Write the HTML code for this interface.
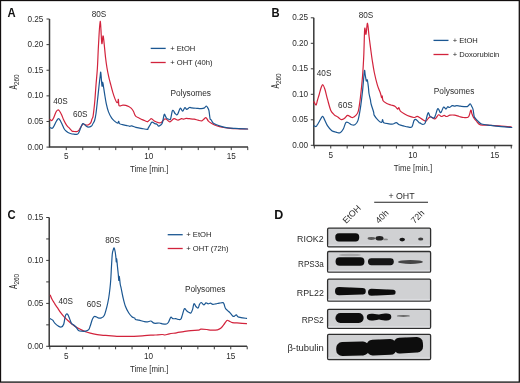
<!DOCTYPE html>
<html><head><meta charset="utf-8"><style>
html,body{margin:0;padding:0;background:#fff;}
body{width:520px;height:383px;overflow:hidden;position:relative;}
svg{display:block;position:absolute;left:0;top:0;font-family:"Liberation Sans",sans-serif;}
#t{filter:grayscale(1);}
</style></head><body>
<svg width="520" height="383" viewBox="0 0 520 383">
<defs><filter id="bl" x="-20%" y="-50%" width="140%" height="200%"><feGaussianBlur stdDeviation="0.7"/></filter></defs>
<rect width="520" height="383" fill="#fff"/>
<path d="M49.5,19.0 V147.1 H248" fill="none" stroke="#3a3a3a" stroke-width="1.5"/>
<path d="M46.5,19.0 H49.5" stroke="#3a3a3a" stroke-width="1"/>
<path d="M46.5,44.620000000000005 H49.5" stroke="#3a3a3a" stroke-width="1"/>
<path d="M46.5,70.24000000000001 H49.5" stroke="#3a3a3a" stroke-width="1"/>
<path d="M46.5,95.86 H49.5" stroke="#3a3a3a" stroke-width="1"/>
<path d="M46.5,121.48 H49.5" stroke="#3a3a3a" stroke-width="1"/>
<path d="M46.5,147.1 H49.5" stroke="#3a3a3a" stroke-width="1"/>
<path d="M66.25,147.1 V150.1" stroke="#3a3a3a" stroke-width="1"/>
<path d="M82.75,147.1 V150.1" stroke="#3a3a3a" stroke-width="1"/>
<path d="M99.25,147.1 V150.1" stroke="#3a3a3a" stroke-width="1"/>
<path d="M115.75,147.1 V150.1" stroke="#3a3a3a" stroke-width="1"/>
<path d="M132.25,147.1 V150.1" stroke="#3a3a3a" stroke-width="1"/>
<path d="M148.75,147.1 V150.1" stroke="#3a3a3a" stroke-width="1"/>
<path d="M165.25,147.1 V150.1" stroke="#3a3a3a" stroke-width="1"/>
<path d="M181.75,147.1 V150.1" stroke="#3a3a3a" stroke-width="1"/>
<path d="M198.25,147.1 V150.1" stroke="#3a3a3a" stroke-width="1"/>
<path d="M214.75,147.1 V150.1" stroke="#3a3a3a" stroke-width="1"/>
<path d="M231.25,147.1 V150.1" stroke="#3a3a3a" stroke-width="1"/>
<path d="M247.75,147.1 V150.1" stroke="#3a3a3a" stroke-width="1"/>
<path d="M313.8,17.8 V145.5 H512.3" fill="none" stroke="#3a3a3a" stroke-width="1.5"/>
<path d="M310.8,17.8 H313.8" stroke="#3a3a3a" stroke-width="1"/>
<path d="M310.8,43.3 H313.8" stroke="#3a3a3a" stroke-width="1"/>
<path d="M310.8,68.8 H313.8" stroke="#3a3a3a" stroke-width="1"/>
<path d="M310.8,94.3 H313.8" stroke="#3a3a3a" stroke-width="1"/>
<path d="M310.8,119.8 H313.8" stroke="#3a3a3a" stroke-width="1"/>
<path d="M310.8,145.3 H313.8" stroke="#3a3a3a" stroke-width="1"/>
<path d="M314.34,145.5 V148.5" stroke="#3a3a3a" stroke-width="1"/>
<path d="M330.75,145.5 V148.5" stroke="#3a3a3a" stroke-width="1"/>
<path d="M347.16,145.5 V148.5" stroke="#3a3a3a" stroke-width="1"/>
<path d="M363.57,145.5 V148.5" stroke="#3a3a3a" stroke-width="1"/>
<path d="M379.98,145.5 V148.5" stroke="#3a3a3a" stroke-width="1"/>
<path d="M396.39,145.5 V148.5" stroke="#3a3a3a" stroke-width="1"/>
<path d="M412.8,145.5 V148.5" stroke="#3a3a3a" stroke-width="1"/>
<path d="M429.21000000000004,145.5 V148.5" stroke="#3a3a3a" stroke-width="1"/>
<path d="M445.62,145.5 V148.5" stroke="#3a3a3a" stroke-width="1"/>
<path d="M462.03,145.5 V148.5" stroke="#3a3a3a" stroke-width="1"/>
<path d="M478.44,145.5 V148.5" stroke="#3a3a3a" stroke-width="1"/>
<path d="M494.85,145.5 V148.5" stroke="#3a3a3a" stroke-width="1"/>
<path d="M511.26,145.5 V148.5" stroke="#3a3a3a" stroke-width="1"/>
<path d="M49.2,217.5 V346.3 H247" fill="none" stroke="#3a3a3a" stroke-width="1.5"/>
<path d="M46.2,217.5 H49.2" stroke="#3a3a3a" stroke-width="1"/>
<path d="M46.2,260.4 H49.2" stroke="#3a3a3a" stroke-width="1"/>
<path d="M46.2,303.4 H49.2" stroke="#3a3a3a" stroke-width="1"/>
<path d="M46.2,346.3 H49.2" stroke="#3a3a3a" stroke-width="1"/>
<path d="M46.2,238.95 H49.2" stroke="#3a3a3a" stroke-width="1"/>
<path d="M46.2,281.9 H49.2" stroke="#3a3a3a" stroke-width="1"/>
<path d="M46.2,324.85 H49.2" stroke="#3a3a3a" stroke-width="1"/>
<path d="M49.8,346.3 V349.3" stroke="#3a3a3a" stroke-width="1"/>
<path d="M66.25,346.3 V349.3" stroke="#3a3a3a" stroke-width="1"/>
<path d="M82.7,346.3 V349.3" stroke="#3a3a3a" stroke-width="1"/>
<path d="M99.15,346.3 V349.3" stroke="#3a3a3a" stroke-width="1"/>
<path d="M115.6,346.3 V349.3" stroke="#3a3a3a" stroke-width="1"/>
<path d="M132.05,346.3 V349.3" stroke="#3a3a3a" stroke-width="1"/>
<path d="M148.5,346.3 V349.3" stroke="#3a3a3a" stroke-width="1"/>
<path d="M164.95,346.3 V349.3" stroke="#3a3a3a" stroke-width="1"/>
<path d="M181.39999999999998,346.3 V349.3" stroke="#3a3a3a" stroke-width="1"/>
<path d="M197.85,346.3 V349.3" stroke="#3a3a3a" stroke-width="1"/>
<path d="M214.29999999999998,346.3 V349.3" stroke="#3a3a3a" stroke-width="1"/>
<path d="M230.75,346.3 V349.3" stroke="#3a3a3a" stroke-width="1"/>
<path d="M247.2,346.3 V349.3" stroke="#3a3a3a" stroke-width="1"/>
<path d="M50.00,119.40 C50.32,119.58 51.23,120.90 51.90,120.50 C52.57,120.10 53.32,118.42 54.00,117.00 C54.68,115.58 55.37,113.17 56.00,112.00 C56.63,110.83 57.22,110.17 57.80,110.00 C58.38,109.83 58.85,110.17 59.50,111.00 C60.15,111.83 61.03,113.58 61.70,115.00 C62.37,116.42 62.85,118.07 63.50,119.50 C64.15,120.93 64.93,122.47 65.60,123.60 C66.27,124.73 66.83,125.52 67.50,126.30 C68.17,127.08 68.87,127.52 69.60,128.30 C70.33,129.08 71.17,130.47 71.90,131.00 C72.63,131.53 73.08,131.42 74.00,131.50 C74.92,131.58 76.57,131.75 77.40,131.50 C78.23,131.25 78.48,130.65 79.00,130.00 C79.52,129.35 79.85,128.60 80.50,127.60 C81.15,126.60 82.23,124.52 82.90,124.00 C83.57,123.48 83.85,124.30 84.50,124.50 C85.15,124.70 86.13,125.15 86.80,125.20 C87.47,125.25 87.85,125.18 88.50,124.80 C89.15,124.42 90.12,123.87 90.70,122.90 C91.28,121.93 91.62,120.05 92.00,119.00 C92.38,117.95 92.65,118.43 93.00,116.60 C93.35,114.77 93.78,110.77 94.10,108.00 C94.42,105.23 94.58,103.83 94.90,100.00 C95.22,96.17 95.58,90.33 96.00,85.00 C96.42,79.67 96.98,74.67 97.40,68.00 C97.82,61.33 98.03,52.78 98.50,45.00 C98.97,37.22 99.65,21.58 100.20,21.30 C100.75,21.02 101.35,40.82 101.80,43.30 C102.25,45.78 102.58,36.85 102.90,36.20 C103.22,35.55 103.25,35.77 103.70,39.40 C104.15,43.03 105.05,53.23 105.60,58.00 C106.15,62.77 106.48,64.88 107.00,68.00 C107.52,71.12 108.15,74.20 108.70,76.70 C109.25,79.20 109.62,80.38 110.30,83.00 C110.98,85.62 111.98,89.67 112.80,92.40 C113.62,95.13 114.52,97.70 115.20,99.40 C115.88,101.10 116.45,102.20 116.90,102.60 C117.35,103.00 117.65,102.33 117.90,101.80 C118.15,101.27 118.23,98.82 118.40,99.40 C118.57,99.98 118.55,104.22 118.90,105.30 C119.25,106.38 119.85,105.93 120.50,105.90 C121.15,105.87 121.92,105.20 122.80,105.10 C123.68,105.00 124.82,105.07 125.80,105.30 C126.78,105.53 127.82,106.02 128.70,106.50 C129.58,106.98 130.32,107.42 131.10,108.20 C131.88,108.98 132.85,110.27 133.40,111.20 C133.95,112.13 133.98,112.93 134.40,113.80 C134.82,114.67 135.13,115.70 135.90,116.40 C136.67,117.10 137.95,117.47 139.00,118.00 C140.05,118.53 141.20,119.13 142.20,119.60 C143.20,120.07 144.13,120.45 145.00,120.80 C145.87,121.15 146.90,121.58 147.40,121.70 C147.90,121.82 147.57,121.85 148.00,121.50 C148.43,121.15 149.42,120.07 150.00,119.60 C150.58,119.13 150.78,118.47 151.50,118.70 C152.22,118.93 153.15,120.33 154.30,121.00 C155.45,121.67 157.23,122.45 158.40,122.70 C159.57,122.95 160.25,123.12 161.30,122.50 C162.35,121.88 163.75,119.45 164.70,119.00 C165.65,118.55 166.13,119.33 167.00,119.80 C167.87,120.27 168.73,121.98 169.90,121.80 C171.07,121.62 172.65,118.97 174.00,118.70 C175.35,118.43 176.75,120.20 178.00,120.20 C179.25,120.20 180.53,118.87 181.50,118.70 C182.47,118.53 183.03,119.25 183.80,119.20 C184.57,119.15 185.15,118.48 186.10,118.40 C187.05,118.32 188.15,118.57 189.50,118.70 C190.85,118.83 192.78,118.95 194.20,119.20 C195.62,119.45 196.78,119.92 198.00,120.20 C199.22,120.48 200.58,121.02 201.50,120.90 C202.42,120.78 202.73,120.03 203.50,119.50 C204.27,118.97 205.28,117.42 206.10,117.70 C206.92,117.98 207.45,120.23 208.40,121.20 C209.35,122.17 210.45,122.73 211.80,123.50 C213.15,124.27 214.57,125.13 216.50,125.80 C218.43,126.47 221.10,127.07 223.40,127.50 C225.70,127.93 227.53,128.18 230.30,128.40 C233.07,128.62 237.12,128.70 240.00,128.80 C242.88,128.90 246.33,128.97 247.60,129.00" fill="none" stroke="#d2233c" stroke-width="1.2" stroke-linejoin="round" stroke-linecap="round"/>
<path d="M50.00,127.60 C50.38,127.72 51.63,128.57 52.30,128.30 C52.97,128.03 53.30,127.22 54.00,126.00 C54.70,124.78 55.73,122.23 56.50,121.00 C57.27,119.77 57.93,118.60 58.60,118.60 C59.27,118.60 59.85,119.90 60.50,121.00 C61.15,122.10 61.92,123.95 62.50,125.20 C63.08,126.45 63.48,127.58 64.00,128.50 C64.52,129.42 64.93,130.03 65.60,130.70 C66.27,131.37 67.22,132.03 68.00,132.50 C68.78,132.97 69.30,133.22 70.30,133.50 C71.30,133.78 72.82,134.07 74.00,134.20 C75.18,134.33 76.57,134.62 77.40,134.30 C78.23,133.98 78.40,133.52 79.00,132.30 C79.60,131.08 80.35,128.45 81.00,127.00 C81.65,125.55 82.32,124.02 82.90,123.60 C83.48,123.18 83.98,124.10 84.50,124.50 C85.02,124.90 85.37,125.55 86.00,126.00 C86.63,126.45 87.38,127.20 88.30,127.20 C89.22,127.20 90.72,126.62 91.50,126.00 C92.28,125.38 92.48,124.42 93.00,123.50 C93.52,122.58 94.10,122.17 94.60,120.50 C95.10,118.83 95.50,117.03 96.00,113.50 C96.50,109.97 97.08,104.02 97.60,99.30 C98.12,94.58 98.67,89.12 99.10,85.20 C99.53,81.28 99.92,77.92 100.20,75.80 C100.48,73.68 100.50,70.80 100.80,72.50 C101.10,74.20 101.68,84.40 102.00,86.00 C102.32,87.60 102.47,82.10 102.70,82.10 C102.93,82.10 103.08,84.03 103.40,86.00 C103.72,87.97 104.13,91.02 104.60,93.90 C105.07,96.78 105.55,100.30 106.20,103.30 C106.85,106.30 107.58,109.42 108.50,111.90 C109.42,114.38 110.65,116.63 111.70,118.20 C112.75,119.77 113.82,120.47 114.80,121.30 C115.78,122.13 116.95,123.20 117.60,123.20 C118.25,123.20 118.38,121.23 118.70,121.30 C119.02,121.37 118.85,123.03 119.50,123.60 C120.15,124.17 121.50,124.40 122.60,124.70 C123.70,125.00 124.90,125.13 126.10,125.40 C127.30,125.67 128.87,126.22 129.80,126.30 C130.73,126.38 130.68,125.73 131.70,125.90 C132.72,126.07 134.15,126.85 135.90,127.30 C137.65,127.75 140.28,128.25 142.20,128.60 C144.12,128.95 146.43,129.42 147.40,129.40 C148.37,129.38 147.62,129.13 148.00,128.50 C148.38,127.87 149.03,126.67 149.70,125.60 C150.37,124.53 151.13,122.43 152.00,122.10 C152.87,121.77 154.03,123.22 154.90,123.60 C155.77,123.98 156.62,123.97 157.20,124.40 C157.78,124.83 157.82,126.10 158.40,126.20 C158.98,126.30 160.03,125.58 160.70,125.00 C161.37,124.42 161.82,124.43 162.40,122.70 C162.98,120.97 163.72,115.75 164.20,114.60 C164.68,113.45 164.92,115.22 165.30,115.80 C165.68,116.38 166.02,117.57 166.50,118.10 C166.98,118.63 167.53,118.82 168.20,119.00 C168.87,119.18 169.83,120.50 170.50,119.20 C171.17,117.90 171.72,112.63 172.20,111.20 C172.68,109.77 172.92,110.22 173.40,110.60 C173.88,110.98 174.43,112.83 175.10,113.50 C175.77,114.17 176.53,115.47 177.40,114.60 C178.27,113.73 179.43,108.87 180.30,108.30 C181.17,107.73 181.83,111.33 182.60,111.20 C183.37,111.07 184.22,107.80 184.90,107.50 C185.58,107.20 185.93,109.40 186.70,109.40 C187.47,109.40 188.65,107.75 189.50,107.50 C190.35,107.25 190.63,107.77 191.80,107.90 C192.97,108.03 194.95,108.18 196.50,108.30 C198.05,108.42 199.77,108.67 201.10,108.60 C202.43,108.53 203.63,108.33 204.50,107.90 C205.37,107.47 205.75,106.00 206.30,106.00 C206.85,106.00 207.35,107.10 207.80,107.90 C208.25,108.70 208.62,108.98 209.00,110.80 C209.38,112.62 209.72,117.27 210.10,118.80 C210.48,120.33 210.82,119.32 211.30,120.00 C211.78,120.68 212.13,122.10 213.00,122.90 C213.87,123.70 215.15,124.23 216.50,124.80 C217.85,125.37 219.18,125.80 221.10,126.30 C223.02,126.80 225.70,127.45 228.00,127.80 C230.30,128.15 231.63,128.20 234.90,128.40 C238.17,128.60 245.48,128.90 247.60,129.00" fill="none" stroke="#1b5792" stroke-width="1.2" stroke-linejoin="round" stroke-linecap="round"/>
<path d="M314.00,101.80 C314.35,102.33 315.52,105.30 316.10,105.00 C316.68,104.70 316.98,101.75 317.50,100.00 C318.02,98.25 318.62,96.50 319.20,94.50 C319.78,92.50 320.40,89.63 321.00,88.00 C321.60,86.37 322.15,84.48 322.80,84.70 C323.45,84.92 324.10,86.80 324.90,89.30 C325.70,91.80 326.63,96.22 327.60,99.70 C328.57,103.18 329.73,107.83 330.70,110.20 C331.67,112.57 332.68,113.02 333.40,113.90 C334.12,114.78 334.40,115.08 335.00,115.50 C335.60,115.92 336.33,115.98 337.00,116.40 C337.67,116.82 338.30,117.47 339.00,118.00 C339.70,118.53 340.32,119.52 341.20,119.60 C342.08,119.68 343.25,119.20 344.30,118.50 C345.35,117.80 346.45,115.67 347.50,115.40 C348.55,115.13 349.73,116.55 350.60,116.90 C351.47,117.25 351.83,117.75 352.70,117.50 C353.57,117.25 354.87,116.45 355.80,115.40 C356.73,114.35 357.53,114.17 358.30,111.20 C359.07,108.23 359.70,103.35 360.40,97.60 C361.10,91.85 361.93,83.80 362.50,76.70 C363.07,69.60 363.43,62.98 363.80,55.00 C364.17,47.02 364.33,32.25 364.70,28.80 C365.07,25.35 365.53,35.22 366.00,34.30 C366.47,33.38 366.98,22.90 367.50,23.30 C368.02,23.70 368.57,32.38 369.10,36.70 C369.63,41.02 370.18,45.32 370.70,49.20 C371.22,53.08 371.60,56.12 372.20,60.00 C372.80,63.88 373.43,68.32 374.30,72.50 C375.17,76.68 376.37,81.60 377.40,85.10 C378.43,88.60 379.80,91.42 380.50,93.50 C381.20,95.58 381.32,97.18 381.60,97.60 C381.88,98.02 381.95,95.47 382.20,96.00 C382.45,96.53 382.33,99.55 383.10,100.80 C383.87,102.05 385.48,102.80 386.80,103.50 C388.12,104.20 389.60,104.52 391.00,105.00 C392.40,105.48 394.08,105.72 395.20,106.40 C396.32,107.08 397.08,108.88 397.70,109.10 C398.32,109.32 398.45,107.35 398.90,107.70 C399.35,108.05 399.45,110.17 400.40,111.20 C401.35,112.23 403.03,113.03 404.60,113.90 C406.17,114.77 408.23,115.80 409.80,116.40 C411.37,117.00 412.78,117.50 414.00,117.50 C415.22,117.50 416.10,116.37 417.10,116.40 C418.10,116.43 419.03,117.13 420.00,117.70 C420.97,118.27 421.93,119.22 422.90,119.80 C423.87,120.38 424.93,121.40 425.80,121.20 C426.67,121.00 427.33,119.33 428.10,118.60 C428.87,117.87 429.25,116.77 430.40,116.80 C431.55,116.83 433.65,119.13 435.00,118.80 C436.35,118.47 437.45,115.18 438.50,114.80 C439.55,114.42 440.35,116.40 441.30,116.50 C442.25,116.60 443.33,115.40 444.20,115.40 C445.07,115.40 445.53,116.53 446.50,116.50 C447.47,116.47 448.65,115.42 450.00,115.20 C451.35,114.98 453.07,114.98 454.60,115.20 C456.13,115.42 457.67,116.12 459.20,116.50 C460.73,116.88 462.25,117.45 463.80,117.50 C465.35,117.55 467.33,118.02 468.50,116.80 C469.67,115.58 470.23,110.72 470.80,110.20 C471.37,109.68 471.42,112.45 471.90,113.70 C472.38,114.95 472.93,116.45 473.70,117.70 C474.47,118.95 475.38,120.02 476.50,121.20 C477.62,122.38 478.00,124.12 480.40,124.80 C482.80,125.48 487.42,125.08 490.90,125.30 C494.38,125.52 497.92,125.83 501.30,126.10 C504.68,126.37 509.55,126.77 511.20,126.90" fill="none" stroke="#d2233c" stroke-width="1.2" stroke-linejoin="round" stroke-linecap="round"/>
<path d="M314.00,125.90 C314.35,126.00 315.52,126.73 316.10,126.50 C316.68,126.27 316.98,125.30 317.50,124.50 C318.02,123.70 318.38,123.05 319.20,121.70 C320.02,120.35 321.52,116.75 322.40,116.40 C323.28,116.05 323.63,118.02 324.50,119.60 C325.37,121.18 326.38,124.05 327.60,125.90 C328.82,127.75 330.40,129.67 331.80,130.70 C333.20,131.73 334.62,131.75 336.00,132.10 C337.38,132.45 338.88,133.32 340.10,132.80 C341.32,132.28 342.35,130.68 343.30,129.00 C344.25,127.32 344.93,123.75 345.80,122.70 C346.67,121.65 347.53,122.35 348.50,122.70 C349.47,123.05 350.55,124.45 351.60,124.80 C352.65,125.15 353.75,125.50 354.80,124.80 C355.85,124.10 356.97,123.38 357.90,120.60 C358.83,117.82 359.63,112.97 360.40,108.10 C361.17,103.23 361.83,97.55 362.50,91.40 C363.17,85.25 363.95,73.97 364.40,71.20 C364.85,68.43 364.88,73.18 365.20,74.80 C365.52,76.42 365.95,80.05 366.30,80.90 C366.65,81.75 366.95,78.85 367.30,79.90 C367.65,80.95 368.12,84.93 368.40,87.20 C368.68,89.47 368.67,91.42 369.00,93.50 C369.33,95.58 370.05,97.95 370.40,99.70 C370.75,101.45 370.57,101.95 371.10,104.00 C371.63,106.05 373.07,110.10 373.60,112.00 C374.13,113.90 373.48,113.97 374.30,115.40 C375.12,116.83 377.28,119.45 378.50,120.60 C379.72,121.75 380.92,122.47 381.60,122.30 C382.28,122.13 382.25,119.53 382.60,119.60 C382.95,119.67 382.65,122.00 383.70,122.70 C384.75,123.40 387.33,123.58 388.90,123.80 C390.47,124.02 391.88,124.18 393.10,124.00 C394.32,123.82 395.15,122.57 396.20,122.70 C397.25,122.83 398.18,124.27 399.40,124.80 C400.62,125.33 402.12,125.55 403.50,125.90 C404.88,126.25 406.30,126.73 407.70,126.90 C409.10,127.07 410.85,127.95 411.90,126.90 C412.95,125.85 413.30,121.82 414.00,120.60 C414.70,119.38 415.23,119.25 416.10,119.60 C416.97,119.95 418.55,122.15 419.20,122.70 C419.85,123.25 419.38,122.62 420.00,122.90 C420.62,123.18 422.03,124.40 422.90,124.40 C423.77,124.40 424.53,124.22 425.20,122.90 C425.87,121.58 426.38,118.23 426.90,116.50 C427.42,114.77 427.82,112.58 428.30,112.50 C428.78,112.42 429.27,115.23 429.80,116.00 C430.33,116.77 430.73,116.82 431.50,117.10 C432.27,117.38 433.43,118.95 434.40,117.70 C435.37,116.45 436.62,111.05 437.30,109.60 C437.98,108.15 438.02,108.52 438.50,109.00 C438.98,109.48 439.73,112.02 440.20,112.50 C440.67,112.98 440.72,112.80 441.30,111.90 C441.88,111.00 442.92,107.58 443.70,107.10 C444.48,106.62 445.33,109.07 446.00,109.00 C446.67,108.93 447.13,106.95 447.70,106.70 C448.27,106.45 448.63,107.68 449.40,107.50 C450.17,107.32 451.43,105.82 452.30,105.60 C453.17,105.38 453.83,106.20 454.60,106.20 C455.37,106.20 455.93,105.60 456.90,105.60 C457.87,105.60 458.85,106.02 460.40,106.20 C461.95,106.38 464.85,106.80 466.20,106.70 C467.55,106.60 467.83,106.08 468.50,105.60 C469.17,105.12 469.63,103.62 470.20,103.80 C470.77,103.98 471.42,105.73 471.90,106.70 C472.38,107.67 472.72,107.97 473.10,109.60 C473.48,111.23 473.82,115.05 474.20,116.50 C474.58,117.95 474.82,117.57 475.40,118.30 C475.98,119.03 476.68,119.95 477.70,120.90 C478.72,121.85 479.30,123.25 481.50,124.00 C483.70,124.75 487.60,124.97 490.90,125.40 C494.20,125.83 497.82,126.25 501.30,126.60 C504.78,126.95 510.05,127.35 511.80,127.50" fill="none" stroke="#1b5792" stroke-width="1.2" stroke-linejoin="round" stroke-linecap="round"/>
<path d="M50.30,295.20 C50.57,295.85 51.23,297.80 51.90,299.10 C52.57,300.40 53.65,301.95 54.30,303.00 C54.95,304.05 55.28,304.62 55.80,305.40 C56.32,306.18 56.62,306.53 57.40,307.70 C58.18,308.87 59.45,310.97 60.50,312.40 C61.55,313.83 62.38,314.87 63.70,316.30 C65.02,317.73 66.83,319.55 68.40,321.00 C69.97,322.45 71.53,323.82 73.10,325.00 C74.67,326.18 76.23,327.20 77.80,328.10 C79.37,329.00 80.93,329.70 82.50,330.40 C84.07,331.10 85.38,331.72 87.20,332.30 C89.02,332.88 91.05,333.43 93.40,333.90 C95.75,334.37 98.78,334.82 101.30,335.10 C103.82,335.38 105.90,335.40 108.50,335.60 C111.10,335.80 114.08,336.17 116.90,336.30 C119.72,336.43 122.57,336.40 125.40,336.40 C128.23,336.40 131.07,336.38 133.90,336.30 C136.73,336.22 139.58,336.10 142.40,335.90 C145.22,335.70 148.70,335.25 150.80,335.10 C152.90,334.95 153.10,335.10 155.00,335.00 C156.90,334.90 160.53,334.50 162.20,334.50 C163.87,334.50 163.80,335.12 165.00,335.00 C166.20,334.88 167.48,334.17 169.40,333.80 C171.32,333.43 174.12,333.17 176.50,332.80 C178.88,332.43 181.30,331.97 183.70,331.60 C186.10,331.23 188.50,330.83 190.90,330.60 C193.30,330.37 196.43,330.43 198.10,330.20 C199.77,329.97 199.47,329.32 200.90,329.20 C202.33,329.08 204.97,329.33 206.70,329.50 C208.43,329.67 209.50,330.15 211.30,330.20 C213.10,330.25 215.93,330.12 217.50,329.80 C219.07,329.48 219.65,329.15 220.70,328.30 C221.75,327.45 222.77,326.02 223.80,324.70 C224.83,323.38 225.98,321.00 226.90,320.40 C227.82,319.80 228.38,320.73 229.30,321.10 C230.22,321.47 230.70,322.27 232.40,322.60 C234.10,322.93 237.15,322.93 239.50,323.10 C241.85,323.27 245.33,323.52 246.50,323.60" fill="none" stroke="#d2233c" stroke-width="1.2" stroke-linejoin="round" stroke-linecap="round"/>
<path d="M50.30,318.70 C50.70,318.95 51.92,319.42 52.70,320.20 C53.48,320.98 54.08,322.43 55.00,323.40 C55.92,324.37 57.15,325.40 58.20,326.00 C59.25,326.60 60.38,327.30 61.30,327.00 C62.22,326.70 63.05,325.98 63.70,324.20 C64.35,322.42 64.73,318.00 65.20,316.30 C65.67,314.60 66.03,314.25 66.50,314.00 C66.97,313.75 67.48,314.02 68.00,314.80 C68.52,315.58 69.02,317.27 69.60,318.70 C70.18,320.13 70.80,322.35 71.50,323.40 C72.20,324.45 73.02,324.35 73.80,325.00 C74.58,325.65 75.42,326.40 76.20,327.30 C76.98,328.20 77.58,329.75 78.50,330.40 C79.42,331.05 80.52,331.07 81.70,331.20 C82.88,331.33 84.43,331.47 85.60,331.20 C86.77,330.93 87.92,330.52 88.70,329.60 C89.48,328.68 89.65,327.52 90.30,325.70 C90.95,323.88 91.87,320.27 92.60,318.70 C93.33,317.13 93.78,316.43 94.70,316.30 C95.62,316.17 97.00,317.63 98.10,317.90 C99.20,318.17 100.28,318.28 101.30,317.90 C102.32,317.52 103.28,317.40 104.20,315.60 C105.12,313.80 106.05,310.03 106.80,307.10 C107.55,304.17 108.17,301.18 108.70,298.00 C109.23,294.82 109.65,291.17 110.00,288.00 C110.35,284.83 110.55,282.67 110.80,279.00 C111.05,275.33 111.25,270.17 111.50,266.00 C111.75,261.83 112.02,256.67 112.30,254.00 C112.58,251.33 112.90,251.02 113.20,250.00 C113.50,248.98 113.77,247.57 114.10,247.90 C114.43,248.23 114.90,250.40 115.20,252.00 C115.50,253.60 115.72,255.83 115.90,257.50 C116.08,259.17 116.17,261.78 116.30,262.00 C116.43,262.22 116.52,258.13 116.70,258.80 C116.88,259.47 117.13,263.38 117.40,266.00 C117.67,268.62 118.07,272.08 118.30,274.50 C118.53,276.92 118.63,280.17 118.80,280.50 C118.97,280.83 119.07,275.92 119.30,276.50 C119.53,277.08 119.88,282.00 120.20,284.00 C120.52,286.00 120.75,286.33 121.20,288.50 C121.65,290.67 122.20,294.03 122.90,297.00 C123.60,299.97 124.42,303.63 125.40,306.30 C126.38,308.97 127.67,311.22 128.80,313.00 C129.93,314.78 131.22,316.15 132.20,317.00 C133.18,317.85 134.15,317.68 134.70,318.10 C135.25,318.52 134.78,319.15 135.50,319.50 C136.22,319.85 137.57,319.87 139.00,320.20 C140.43,320.53 142.68,321.22 144.10,321.50 C145.52,321.78 146.38,321.98 147.50,321.90 C148.62,321.82 149.68,320.78 150.80,321.00 C151.92,321.22 152.78,322.87 154.20,323.20 C155.62,323.53 157.97,322.90 159.30,323.00 C160.63,323.10 161.00,323.63 162.20,323.80 C163.40,323.97 165.43,324.30 166.50,324.00 C167.57,323.70 167.88,323.12 168.60,322.00 C169.32,320.88 170.08,317.85 170.80,317.30 C171.52,316.75 172.07,318.47 172.90,318.70 C173.73,318.93 174.95,318.58 175.80,318.70 C176.65,318.82 177.17,319.32 178.00,319.40 C178.83,319.48 180.08,319.92 180.80,319.20 C181.52,318.48 181.70,316.85 182.30,315.10 C182.90,313.35 183.68,309.42 184.40,308.70 C185.12,307.98 185.88,310.20 186.60,310.80 C187.32,311.40 187.98,311.93 188.70,312.30 C189.42,312.67 190.25,313.48 190.90,313.00 C191.55,312.52 192.08,310.95 192.60,309.40 C193.12,307.85 193.45,304.18 194.00,303.70 C194.55,303.22 195.22,305.78 195.90,306.50 C196.58,307.22 197.50,308.35 198.10,308.00 C198.70,307.65 198.98,305.32 199.50,304.40 C200.02,303.48 200.48,302.43 201.20,302.50 C201.92,302.57 203.00,304.73 203.80,304.80 C204.60,304.87 205.28,303.07 206.00,302.90 C206.72,302.73 207.35,303.75 208.10,303.80 C208.85,303.85 209.72,303.12 210.50,303.20 C211.28,303.28 211.88,304.20 212.80,304.30 C213.72,304.40 214.95,303.98 216.00,303.80 C217.05,303.62 217.93,303.38 219.10,303.20 C220.27,303.02 222.17,302.52 223.00,302.70 C223.83,302.88 223.70,303.38 224.10,304.30 C224.50,305.22 224.80,307.15 225.40,308.20 C226.00,309.25 226.92,309.82 227.70,310.60 C228.48,311.38 229.32,312.05 230.10,312.90 C230.88,313.75 231.75,315.12 232.40,315.70 C233.05,316.28 233.35,316.55 234.00,316.40 C234.65,316.25 235.65,314.73 236.30,314.80 C236.95,314.87 237.12,316.33 237.90,316.80 C238.68,317.27 239.57,317.33 241.00,317.60 C242.43,317.87 245.58,318.27 246.50,318.40" fill="none" stroke="#1b5792" stroke-width="1.2" stroke-linejoin="round" stroke-linecap="round"/>
<path d="M150.7,48.4 h15" stroke="#1b5792" stroke-width="1.3"/>
<path d="M150.7,62.5 h15" stroke="#d2233c" stroke-width="1.3"/>
<path d="M433.5,40.4 h15" stroke="#1b5792" stroke-width="1.3"/>
<path d="M433.5,54.5 h15" stroke="#d2233c" stroke-width="1.3"/>
<path d="M167.7,234.7 h15" stroke="#1b5792" stroke-width="1.3"/>
<path d="M167.7,248.5 h15" stroke="#d2233c" stroke-width="1.3"/>
<rect x="327.6" y="228.2" width="103" height="18.600000000000023" rx="1.2" fill="#d0d1d3" stroke="#2e2e2e" stroke-width="1.3"/>
<rect x="328.4" y="244.60000000000002" width="101.4" height="1.4" fill="#dcdde0"/>
<rect x="327.6" y="251.5" width="103" height="20.600000000000023" rx="1.2" fill="#d0d1d3" stroke="#2e2e2e" stroke-width="1.3"/>
<rect x="328.4" y="269.90000000000003" width="101.4" height="1.4" fill="#dcdde0"/>
<rect x="327.6" y="279.2" width="103" height="21.900000000000034" rx="1.2" fill="#d0d1d3" stroke="#2e2e2e" stroke-width="1.3"/>
<rect x="328.4" y="298.90000000000003" width="101.4" height="1.4" fill="#dcdde0"/>
<rect x="327.6" y="309.4" width="103" height="18.900000000000034" rx="1.2" fill="#d0d1d3" stroke="#2e2e2e" stroke-width="1.3"/>
<rect x="328.4" y="326.1" width="101.4" height="1.4" fill="#dcdde0"/>
<rect x="327.6" y="334.3" width="103" height="25.19999999999999" rx="1.2" fill="#d0d1d3" stroke="#2e2e2e" stroke-width="1.3"/>
<rect x="328.4" y="357.3" width="101.4" height="1.4" fill="#dcdde0"/>
<g filter="url(#bl)" fill="#0d0d0d">
<rect x="335.3" y="233.2" width="23.90" height="8.20" rx="3.6"/>
<ellipse cx="371.4" cy="238.5" rx="3.8" ry="1.4" fill="#5a5a5a"/>
<ellipse cx="379.5" cy="238.3" rx="4.0" ry="2.3" fill="#222"/>
<ellipse cx="385.5" cy="239.4" rx="2.5" ry="0.9" fill="#888"/>
<ellipse cx="402.2" cy="239.6" rx="2.8" ry="1.8" fill="#151515"/>
<ellipse cx="420.7" cy="239.0" rx="2.6" ry="1.5" fill="#3a3a3a"/>
<ellipse cx="350" cy="255" rx="11" ry="1.3" fill="#a8a8aa"/>
<rect x="335.6" y="257.2" width="28.80" height="8.60" rx="4.0"/>
<rect x="368.0" y="258.2" width="25.80" height="7.00" rx="3.4" fill="#121212"/>
<ellipse cx="410.5" cy="261.9" rx="12.4" ry="2.0" fill="#444"/>
<path d="M339.1,287.09999999999997 L362.5,287.9 A3.3,3.3 0 0 1 362.5,294.5 L339.1,295.3 A4.1,4.1 0 0 1 339.1,287.09999999999997Z"/>
<path d="M371.5,288.7 L393.1,289.7 A2.5,2.5 0 0 1 393.1,294.7 L371.5,295.7 A3.5,3.5 0 0 1 371.5,288.7Z"/>
<rect x="335.5" y="313.0" width="28.10" height="10.00" rx="4.8"/>
<path d="M366.8,317 C366.8,313 371,313.2 379,314.6 C387,313 391.3,313 391.3,317 C391.3,321 387,321 379,319.4 C371,321 366.8,321 366.8,317Z"/>
<ellipse cx="403.4" cy="315.9" rx="6.5" ry="1.0" fill="#6a6a6a"/>
<rect x="336.2" y="341.8" width="32.80" height="13.90" rx="6" transform="rotate(-1.5 352.6 348.75)"/>
<rect x="366.6" y="339.4" width="29.80" height="15.70" rx="6" transform="rotate(-2 381.5 347.25)"/>
<rect x="393.6" y="337.4" width="29.40" height="15.60" rx="6" transform="rotate(-3 408.3 345.2)"/>
</g>
<path d="M374.2,202.2 H428" stroke="#222" stroke-width="1.1"/>
<rect x="0.5" y="0.5" width="518.8" height="381.6" fill="none" stroke="#120e0e" stroke-width="1.3"/>
</svg>
<svg id="t" width="520" height="383" viewBox="0 0 520 383">
<text x="0" y="0" font-size="8.7" text-anchor="end" fill="#2b2b2b" font-weight="normal" transform="translate(43.4,21.5) scale(0.94,1)" >0.25</text>
<text x="0" y="0" font-size="8.7" text-anchor="end" fill="#2b2b2b" font-weight="normal" transform="translate(43.4,47.120000000000005) scale(0.94,1)" >0.20</text>
<text x="0" y="0" font-size="8.7" text-anchor="end" fill="#2b2b2b" font-weight="normal" transform="translate(43.4,72.74000000000001) scale(0.94,1)" >0.15</text>
<text x="0" y="0" font-size="8.7" text-anchor="end" fill="#2b2b2b" font-weight="normal" transform="translate(43.4,98.36) scale(0.94,1)" >0.10</text>
<text x="0" y="0" font-size="8.7" text-anchor="end" fill="#2b2b2b" font-weight="normal" transform="translate(43.4,123.98) scale(0.94,1)" >0.05</text>
<text x="0" y="0" font-size="8.7" text-anchor="end" fill="#2b2b2b" font-weight="normal" transform="translate(43.4,149.6) scale(0.94,1)" >0.00</text>
<text x="0" y="0" font-size="8.7" text-anchor="middle" fill="#2b2b2b" font-weight="normal" transform="translate(66.25,158.8) scale(0.94,1)" >5</text>
<text x="0" y="0" font-size="8.7" text-anchor="middle" fill="#2b2b2b" font-weight="normal" transform="translate(148.75,158.8) scale(0.94,1)" >10</text>
<text x="0" y="0" font-size="8.7" text-anchor="middle" fill="#2b2b2b" font-weight="normal" transform="translate(231.25,158.8) scale(0.94,1)" >15</text>
<text x="0" y="0" font-size="8.7" text-anchor="end" fill="#2b2b2b" font-weight="normal" transform="translate(308.1,20.3) scale(0.94,1)" >0.25</text>
<text x="0" y="0" font-size="8.7" text-anchor="end" fill="#2b2b2b" font-weight="normal" transform="translate(308.1,45.8) scale(0.94,1)" >0.20</text>
<text x="0" y="0" font-size="8.7" text-anchor="end" fill="#2b2b2b" font-weight="normal" transform="translate(308.1,71.3) scale(0.94,1)" >0.15</text>
<text x="0" y="0" font-size="8.7" text-anchor="end" fill="#2b2b2b" font-weight="normal" transform="translate(308.1,96.8) scale(0.94,1)" >0.10</text>
<text x="0" y="0" font-size="8.7" text-anchor="end" fill="#2b2b2b" font-weight="normal" transform="translate(308.1,122.3) scale(0.94,1)" >0.05</text>
<text x="0" y="0" font-size="8.7" text-anchor="end" fill="#2b2b2b" font-weight="normal" transform="translate(308.1,147.8) scale(0.94,1)" >0.00</text>
<text x="0" y="0" font-size="8.7" text-anchor="middle" fill="#2b2b2b" font-weight="normal" transform="translate(330.75,158.0) scale(0.94,1)" >5</text>
<text x="0" y="0" font-size="8.7" text-anchor="middle" fill="#2b2b2b" font-weight="normal" transform="translate(412.8,158.0) scale(0.94,1)" >10</text>
<text x="0" y="0" font-size="8.7" text-anchor="middle" fill="#2b2b2b" font-weight="normal" transform="translate(494.85,158.0) scale(0.94,1)" >15</text>
<text x="0" y="0" font-size="8.7" text-anchor="end" fill="#2b2b2b" font-weight="normal" transform="translate(43.300000000000004,220.0) scale(0.94,1)" >0.15</text>
<text x="0" y="0" font-size="8.7" text-anchor="end" fill="#2b2b2b" font-weight="normal" transform="translate(43.300000000000004,262.9) scale(0.94,1)" >0.10</text>
<text x="0" y="0" font-size="8.7" text-anchor="end" fill="#2b2b2b" font-weight="normal" transform="translate(43.300000000000004,305.9) scale(0.94,1)" >0.05</text>
<text x="0" y="0" font-size="8.7" text-anchor="end" fill="#2b2b2b" font-weight="normal" transform="translate(43.300000000000004,348.8) scale(0.94,1)" >0.00</text>
<text x="0" y="0" font-size="8.7" text-anchor="middle" fill="#2b2b2b" font-weight="normal" transform="translate(66.25,358.6) scale(0.94,1)" >5</text>
<text x="0" y="0" font-size="8.7" text-anchor="middle" fill="#2b2b2b" font-weight="normal" transform="translate(148.5,358.6) scale(0.94,1)" >10</text>
<text x="0" y="0" font-size="8.7" text-anchor="middle" fill="#2b2b2b" font-weight="normal" transform="translate(230.75,358.6) scale(0.94,1)" >15</text>
<text x="99" y="17.4" font-size="8.2" text-anchor="middle" fill="#2b2b2b" font-weight="normal" >80S</text>
<text x="60.5" y="103.5" font-size="8.2" text-anchor="middle" fill="#2b2b2b" font-weight="normal" >40S</text>
<text x="80.3" y="117.3" font-size="8.2" text-anchor="middle" fill="#2b2b2b" font-weight="normal" >60S</text>
<text x="170.4" y="96" font-size="8.3" text-anchor="start" fill="#2b2b2b" font-weight="normal" >Polysomes</text>
<text x="366" y="17.8" font-size="8.2" text-anchor="middle" fill="#2b2b2b" font-weight="normal" >80S</text>
<text x="324.1" y="75.7" font-size="8.2" text-anchor="middle" fill="#2b2b2b" font-weight="normal" >40S</text>
<text x="345.4" y="107.5" font-size="8.2" text-anchor="middle" fill="#2b2b2b" font-weight="normal" >60S</text>
<text x="433.8" y="94.0" font-size="8.3" text-anchor="start" fill="#2b2b2b" font-weight="normal" >Polysomes</text>
<text x="112.6" y="243.2" font-size="8.2" text-anchor="middle" fill="#2b2b2b" font-weight="normal" >80S</text>
<text x="65.7" y="303.8" font-size="8.2" text-anchor="middle" fill="#2b2b2b" font-weight="normal" >40S</text>
<text x="94.1" y="306.9" font-size="8.2" text-anchor="middle" fill="#2b2b2b" font-weight="normal" >60S</text>
<text x="184.9" y="291.6" font-size="8.3" text-anchor="start" fill="#2b2b2b" font-weight="normal" >Polysomes</text>
<text x="170.2" y="51.0" font-size="7.6" text-anchor="start" fill="#222" font-weight="normal" >+ EtOH</text>
<text x="170.2" y="65.1" font-size="7.6" text-anchor="start" fill="#222" font-weight="normal" >+ OHT (40h)</text>
<text x="452.7" y="43.0" font-size="7.6" text-anchor="start" fill="#222" font-weight="normal" >+ EtOH</text>
<text x="452.7" y="57.1" font-size="7.6" text-anchor="start" fill="#222" font-weight="normal" >+ Doxorubicin</text>
<text x="186.29999999999998" y="237.29999999999998" font-size="7.6" text-anchor="start" fill="#222" font-weight="normal" >+ EtOH</text>
<text x="186.29999999999998" y="251.1" font-size="7.6" text-anchor="start" fill="#222" font-weight="normal" >+ OHT (72h)</text>
<text x="0" y="0" font-size="9.8" fill="#2b2b2b" transform="translate(130,172) scale(0.8,1)">Time [min.]</text>
<text x="0" y="0" font-size="9.8" fill="#2b2b2b" transform="translate(393.75,171.2) scale(0.8,1)">Time [min.]</text>
<text x="0" y="0" font-size="9.8" fill="#2b2b2b" transform="translate(130,371.8) scale(0.8,1)">Time [min.]</text>
<g transform="translate(16.6,89.6) rotate(-90)" fill="#2b2b2b"><text font-size="10.6" transform="scale(0.64,1)">A</text><text font-size="8" transform="translate(4.6,2.6) scale(0.8,1)">260</text></g>
<g transform="translate(278.7,88.6) rotate(-90)" fill="#2b2b2b"><text font-size="10.6" transform="scale(0.64,1)">A</text><text font-size="8" transform="translate(4.6,2.6) scale(0.8,1)">260</text></g>
<g transform="translate(16.7,289.1) rotate(-90)" fill="#2b2b2b"><text font-size="10.6" transform="scale(0.64,1)">A</text><text font-size="8" transform="translate(4.6,2.6) scale(0.8,1)">260</text></g>
<text x="0" y="0" font-size="12.5" text-anchor="start" fill="#111" font-weight="bold" transform="translate(7.6,16.8) scale(0.9,1)" >A</text>
<text x="0" y="0" font-size="12.5" text-anchor="start" fill="#111" font-weight="bold" transform="translate(271.4,16.7) scale(0.9,1)" >B</text>
<text x="0" y="0" font-size="12.5" text-anchor="start" fill="#111" font-weight="bold" transform="translate(7.6,219.0) scale(0.9,1)" >C</text>
<text x="274.2" y="219.1" font-size="12.5" text-anchor="start" fill="#111" font-weight="bold" >D</text>
<text x="0" y="0" font-size="9.6" text-anchor="end" fill="#2b2b2b" font-weight="normal" transform="translate(323.6,242.3) scale(0.92,1)" >RIOK2</text>
<text x="0" y="0" font-size="9.6" text-anchor="end" fill="#2b2b2b" font-weight="normal" transform="translate(323.8,267.2) scale(0.85,1)" >RPS3a</text>
<text x="0" y="0" font-size="9.6" text-anchor="end" fill="#2b2b2b" font-weight="normal" transform="translate(323.8,295.6) scale(0.92,1)" >RPL22</text>
<text x="0" y="0" font-size="9.6" text-anchor="end" fill="#2b2b2b" font-weight="normal" transform="translate(323.8,323.1) scale(0.88,1)" >RPS2</text>
<text x="0" y="0" font-size="9.6" text-anchor="end" fill="#2b2b2b" font-weight="normal" transform="translate(323.8,350.8) scale(0.985,1)" >&#946;-tubulin</text>
<text x="401.5" y="198.7" font-size="8.8" text-anchor="middle" fill="#2b2b2b" font-weight="normal" >+ OHT</text>
<text x="0" y="0" font-size="8.8" fill="#2b2b2b" transform="translate(346.2,224.0) rotate(-45)">EtOH</text>
<text x="0" y="0" font-size="8.8" fill="#2b2b2b" transform="translate(378.9,224.0) rotate(-45)">40h</text>
<text x="0" y="0" font-size="8.8" fill="#2b2b2b" transform="translate(414.6,224.0) rotate(-45)">72h</text>
</svg>
</body></html>
